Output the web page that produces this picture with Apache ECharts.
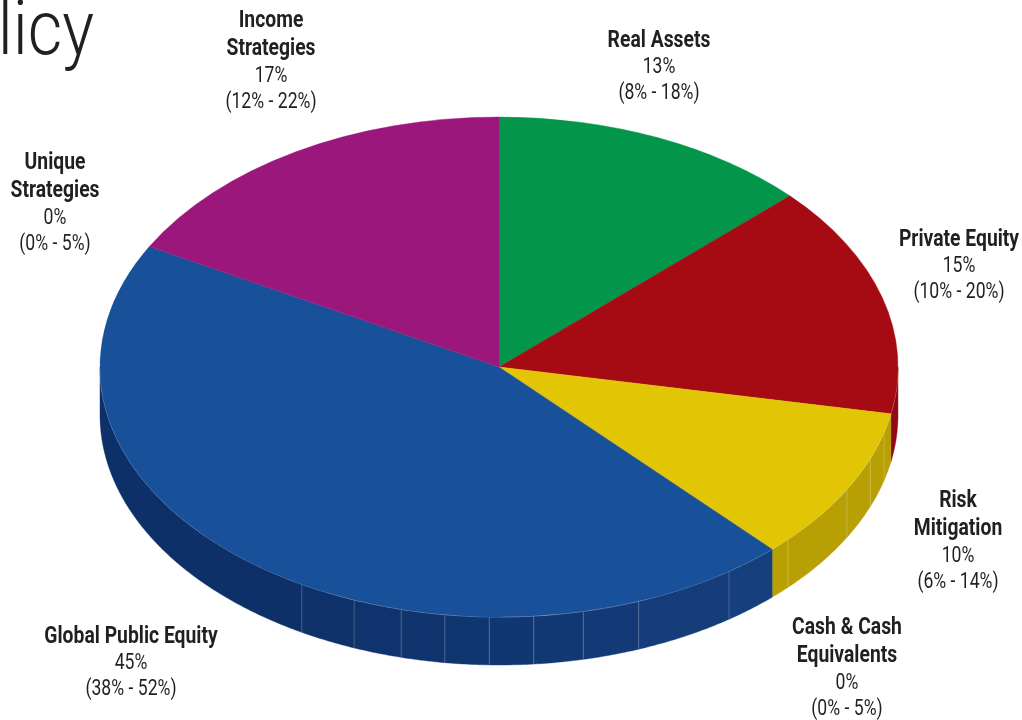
<!DOCTYPE html>
<html>
<head>
<meta charset="utf-8">
<style>html,body{margin:0;padding:0;background:#fff}#chart{width:1022px;height:720px}</style>
<script src="https://cdn.jsdelivr.net/npm/echarts@6/dist/echarts.min.js"></script>
</head>
<body>
<div id="chart"></div>
<script>
// Target allocation, clockwise from twelve o'clock
const categories = [
  ['Real Assets'],
  ['Private Equity'],
  ['Risk', 'Mitigation'],
  ['Cash & Cash', 'Equivalents'],
  ['Global Public Equity'],
  ['Unique', 'Strategies'],
  ['Income', 'Strategies']
];
const targets = [13, 15, 10, 0, 45, 0, 17];
const ranges = ['(8% - 18%)', '(10% - 20%)', '(6% - 14%)', '(0% - 5%)', '(38% - 52%)', '(0% - 5%)', '(12% - 22%)'];

// Appearance and layout
const topColors = ['#03964a', '#a60b13', '#e2c606', '#888888', '#185099', '#888888', '#9b177c'];
const labelAnchors = [[659, 41], [959, 240], [958, 501], [847, 628], [131, 637], [55, 163], [271, 21]];
const CX = 499, CY = 367, RX = 399, RY = 250, DEPTH = 48;
const FONT = 'Roboto,"Liberation Sans",sans-serif';
const INK = '#231f20';
// Angles (degrees clockwise from the top) where the side wall is divided into panels
const wallBreaks = [105.2, 111.5, 119.3, 133.6, 144.8, 159.5, 167.8, 175, 181.4, 187.8, 194.2, 201.3, 209.6];

const rad = d => d * Math.PI / 180;
const rimPoint = (deg, dy) => [CX + RX * Math.sin(rad(deg)), CY - RY * Math.cos(rad(deg)) + (dy || 0)];

function arcPoints(a, b, dy) {
  const pts = [];
  const n = Math.max(2, Math.ceil(Math.abs(b - a) * 2));
  for (let i = 0; i <= n; i++) pts.push(rimPoint(a + (b - a) * i / n, dy));
  return pts;
}

function mix(c1, c2, t) {
  const p = (c, i) => parseInt(c.substr(1 + i * 2, 2), 16);
  return 'rgb(' + [0, 1, 2].map(i => Math.round(p(c1, i) + (p(c2, i) - p(c1, i)) * t)).join(',') + ')';
}

// Wall shade for a slice at a given angle
function wallColor(index, deg) {
  if (index === 4) return mix('#16407f', '#0d3068', Math.min(1, (deg - 137) / 73));
  if (index === 2) return '#b8a004';
  return '#8f0a12';
}

function wallPanels(index, start, end) {
  const a = Math.max(start, 90), b = Math.min(end, 270);
  const out = [];
  if (b <= a) return out;
  const stops = [a].concat(wallBreaks.filter(v => v > a && v < b), [b]);
  for (let i = 0; i < stops.length - 1; i++) {
    const s = stops[i], e = stops[i + 1];
    out.push({
      type: 'polygon', silent: true,
      shape: { points: arcPoints(s, e, 0).concat(arcPoints(e, s, DEPTH)) },
      style: { fill: wallColor(index, (s + e) / 2), stroke: wallColor(index, (s + e) / 2), lineWidth: 0.4 }
    });
    if (i > 0) {
      out.push({
        type: 'line', silent: true,
        shape: { x1: rimPoint(s)[0], y1: rimPoint(s)[1], x2: rimPoint(s)[0], y2: rimPoint(s)[1] + DEPTH },
        style: { stroke: 'rgba(255,255,255,0.22)', lineWidth: 1 }
      });
    }
  }
  // thin highlight along the top edge of the wall
  out.push({
    type: 'polyline', silent: true,
    shape: { points: arcPoints(a, b, 0) },
    style: { fill: null, stroke: 'rgba(255,255,255,0.45)', lineWidth: 0.8 }
  });
  return out;
}

function labelTexts(index, value) {
  const [x, y0] = labelAnchors[index];
  const els = [];
  let y = y0;
  const add = (text, bold) => els.push({
    type: 'text', silent: true, z2: 50,
    x: x, y: y, scaleX: bold ? 0.84 : 0.8,
    style: {
      text: text, align: 'center', verticalAlign: 'middle',
      font: (bold ? '700 23px ' : '400 22px ') + FONT, fill: INK
    }
  });
  categories[index].forEach((line, i) => {
    if (i) y += 28.5;
    add(line, true);
  });
  y += 26.5; add(value + '%', false);
  y += 26; add(ranges[index], false);
  return els;
}

const sum = targets.reduce((a, b) => a + b, 0);

const chart = echarts.init(document.getElementById('chart'), null, { renderer: 'canvas' });
chart.setOption({
  animation: false,
  backgroundColor: '#ffffff',
  graphic: [{
    type: 'text', silent: true, x: 94, y: 73, scaleX: 0.88,
    style: { text: 'licy', align: 'right', verticalAlign: 'bottom', font: '300 76px ' + FONT, lineHeight: 76, fill: INK }
  }],
  series: [{
    type: 'custom',
    coordinateSystem: 'none',
    silent: true,
    data: targets.map((v, i) => [i, v]),
    encode: { value: 1 },
    renderItem(params, api) {
      const index = api.value(0);
      const value = api.value(1);
      const before = targets.slice(0, index).reduce((a, b) => a + b, 0);
      const start = before / sum * 360;
      const end = (before + value) / sum * 360;
      const children = [];
      if (value > 0) {
        children.push(...wallPanels(index, start, end));
        children.push({
          type: 'sector', silent: true, z2: 10,
          originX: CX, originY: CY, scaleY: RY / RX,
          shape: {
            cx: CX, cy: CY, r0: 0, r: RX,
            startAngle: rad(start - 90), endAngle: rad(end - 90), clockwise: true
          },
          style: { fill: topColors[index], stroke: topColors[index], lineWidth: 0.5 }
        });
      }
      children.push(...labelTexts(index, value));
      return { type: 'group', children: children };
    }
  }]
});
</script>
</body>
</html>
